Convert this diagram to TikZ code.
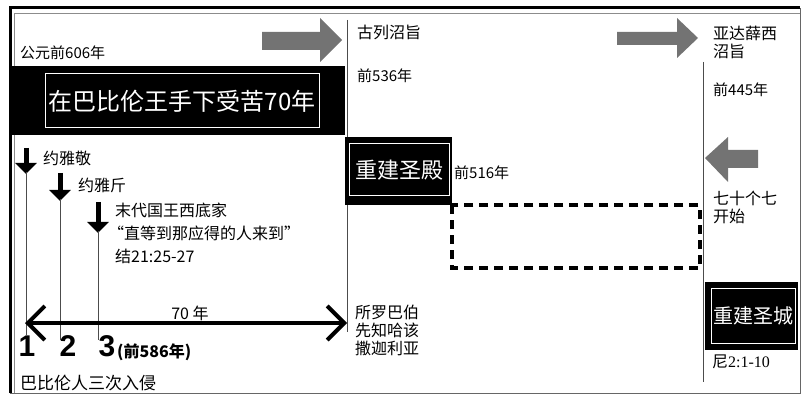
\documentclass[tikz,border=0pt]{standalone}
\usepackage{fontspec}
\setmainfont{Noto Sans CJK SC}
\newfontfamily\numfont{Liberation Sans}
\newfontfamily\refont{Liberation Serif}
\usetikzlibrary{arrows.meta}

\newcommand{\fs}[1]{\fontsize{#1}{#1}\selectfont}

\tikzset{
  lbl/.style={anchor=west, inner sep=0pt, align=left, font=\fs{16}},
  yearlbl/.style={lbl, font=\fs{15}},
  blackbg/.style={fill=black, inner sep=0pt},
  whitebox/.style={draw=white, line width=1pt, text=white, inner sep=0pt},
  thinline/.style={draw=black!70, line width=0.8pt},
  garrow/.style={fill=black!55},
  kingarrow/.style={line width=5pt, -{Triangle[width=21pt,length=11pt]}},
  spanarrow/.style={line width=4pt,
    {Straight Barb[length=17pt,width=34pt]}-{Straight Barb[length=17pt,width=34pt]}},
  dashbox/.style={line width=4pt, dash pattern=on 9pt off 6pt}
}

\begin{document}
\begin{tikzpicture}[x=1pt,y=-1pt]
  \useasboundingbox (0,0) rectangle (805,395);

  % frame
  \draw[line width=0.8pt, black!60] (800,8) -- (800,393) -- (10,393);
  \draw[line width=3pt] (10,393) -- (10,8) -- (800,8);
  \draw[line width=0.6pt, black!45] (14,393) -- (14,13) -- (800,13);

  % time lines
  \draw[thinline] (347,20) -- (347,332);
  \draw[thinline] (703,62) -- (703,382);

  % grey arrows
  \fill[garrow] (262,32) -- (320,32) -- (320,18) -- (342,40) -- (320,62)
    -- (320,50) -- (262,50) -- cycle;
  \fill[garrow] (617,32) -- (677,32) -- (677,18) -- (698,38) -- (677,58)
    -- (677,45) -- (617,45) -- cycle;
  \fill[garrow] (758,150) -- (728,150) -- (728,137) -- (705,158) -- (728,182)
    -- (728,168) -- (758,168) -- cycle;

  % black boxes
  \node (exilebg)  at (178.5,100.5) [blackbg, minimum width=333pt, minimum height=69pt] {};
  \node (exile)    at (182,101) [whitebox, minimum width=274pt, minimum height=54pt,
    font=\fs{24}] {在巴比伦王手下受苦70年};
  \node (templebg) at (398.5,171) [blackbg, minimum width=107pt, minimum height=68pt] {};
  \node (temple)   at (399,170) [whitebox, minimum width=100pt, minimum height=52pt,
    font=\fs{22}] {重建圣殿};
  \node (citybg)   at (751.5,316) [blackbg, minimum width=93pt, minimum height=68pt] {};
  \node (city)     at (753,315.5) [whitebox, minimum width=84pt, minimum height=55pt,
    font=\fs{20}] {重建圣城};

  % dashed gap
  \draw[dashbox] (templebg.south east) rectangle (700,268);

  % year labels
  \node (start)    at (20,53)  [yearlbl] {公元前606年};
  \node (cyrus)    at (357,32) [yearlbl, font=\fs{16}] {古列沼旨};
  \node (cyrusyr)  at (357,76) [yearlbl] {前536年};
  \node (artax)    at (713,42) [yearlbl, font=\fs{16}] {亚达薛西\\[2pt]沼旨};
  \node (artaxyr)  at (713,90) [yearlbl] {前445年};
  \node (templeyr) at (454,173) [yearlbl] {前516年};
  \node (weeks)    at (713,207) [lbl] {七十个七\\[2pt]开始};
  \node (prophets) at (355,330) [lbl] {所罗巴伯\\[2pt]先知哈该\\[2pt]撒迦利亚};
  \node (neh)      at (712,362) [lbl] {尼{\refont 2:1-10}};

  % three kings
  \coordinate (k1) at (26,148);
  \coordinate (k2) at (60,173);
  \coordinate (k3) at (98,202);
  \draw[kingarrow] (k1) -- (26,174);
  \draw[kingarrow] (k2) -- (60,201);
  \draw[kingarrow] (k3) -- (98,233);
  \draw[thinline] (26,172) -- (26,335);
  \draw[thinline] (60,199) -- (60,340);
  \draw[thinline] (98,231) -- (98,340);
  \node (jehoiakim)  at (43,158)  [lbl] {约雅敬};
  \node (jehoiachin) at (78,185)  [lbl] {约雅斤};
  \node (zedekiah)   at (115,210) [lbl] {末代国王西底家};
  \node (until)      at (108,233) [lbl] {“直等到那应得的人来到”};
  \node (ezek)       at (115,256) [lbl] {结21:25-27};

  % seventy years
  \draw[spanarrow] (25,323) -- (347,323);
  \node (seventy) at (190,313) [font=\fs{16}, inner sep=0pt] {70\ 年};

  % invasions
  \node (n1) at (27,346)  [font=\numfont\fs{30}\bfseries, inner sep=0pt] {1};
  \node (n2) at (68,346)  [font=\numfont\fs{30}\bfseries, inner sep=0pt] {2};
  \node (n3) at (107,346) [font=\numfont\fs{30}\bfseries, inner sep=0pt] {3};
  \node (fall) at (117,352) [yearlbl, font=\fs{16}\bfseries] {(前586年)};
  \node (invade) at (20,383) [lbl, font=\fs{17}] {巴比伦人三次入侵};
\end{tikzpicture}
\end{document}
